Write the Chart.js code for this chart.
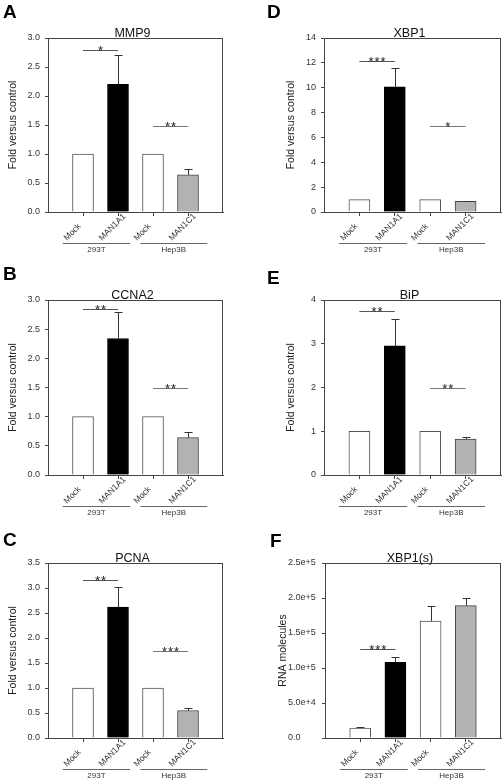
<!DOCTYPE html>
<html>
<head>
<meta charset="utf-8">
<script src="https://cdn.jsdelivr.net/npm/chart.js@4.4.0/dist/chart.umd.min.js"></script>
<style>
    body { margin: 0; background: #fff; width: 502px; height: 782px; position: relative; overflow: hidden; }
    canvas { position: absolute; }
</style>
</head>
<body>
<canvas id="chartA" width="251" height="260" style="left:0;top:0"></canvas>
<canvas id="chartD" width="251" height="260" style="left:251px;top:0"></canvas>
<canvas id="chartB" width="251" height="260" style="left:0;top:260px"></canvas>
<canvas id="chartE" width="251" height="260" style="left:251px;top:260px"></canvas>
<canvas id="chartC" width="251" height="262" style="left:0;top:520px"></canvas>
<canvas id="chartF" width="251" height="262" style="left:251px;top:520px"></canvas>
<script>
// shared categories
var barLabels = ['Mock', 'MAN1A1', 'Mock', 'MAN1C1'];
var groupLabels = ['293T', 'Hep3B'];

// A - MMP9
var mmp9Values = [1, 2.2, 1, 0.64];
var mmp9ErrTop = [null, 2.7, null, 0.75];
var mmp9Stars = ['*', '**'];
var mmp9StarY = [2.79, 1.48];
var mmp9Ticks = [0, 0.5, 1.0, 1.5, 2.0, 2.5, 3.0];

// B - CCNA2
var ccna2Values = [1, 2.34, 1, 0.64];
var ccna2ErrTop = [null, 2.8, null, 0.74];
var ccna2Stars = ['**', '**'];
var ccna2StarY = [2.85, 1.49];
var ccna2Ticks = [0, 0.5, 1.0, 1.5, 2.0, 2.5, 3.0];

// C - PCNA
var pcnaValues = [1, 2.62, 1, 0.55];
var pcnaErrTop = [null, 3.03, null, 0.6];
var pcnaStars = ['**', '***'];
var pcnaStarY = [3.16, 1.75];
var pcnaTicks = [0, 0.5, 1.0, 1.5, 2.0, 2.5, 3.0, 3.5];

// D - XBP1
var xbp1Values = [1, 10.08, 1, 0.86];
var xbp1ErrTop = [null, 11.6, null, 0.9];
var xbp1Stars = ['***', '*'];
var xbp1StarY = [12.13, 6.9];
var xbp1Ticks = [0, 2, 4, 6, 8, 10, 12, 14];

// E - BiP
var bipValues = [1, 2.95, 1, 0.82];
var bipErrTop = [null, 3.56, null, 0.87];
var bipStars = ['**', '**'];
var bipStarY = [3.75, 1.98];
var bipTicks = [0, 1, 2, 3, 4];

// F - XBP1(s)
var xbp1sValues = [14300, 108100, 167100, 189000];
var xbp1sErrTop = [15700, 116200, 188600, 200500];
var xbp1sStars = ['***', null];
var xbp1sStarY = [126700, null];
var xbp1sTicks = [0, 50000, 100000, 150000, 200000, 250000];

var FONT = "'Liberation Sans', Arial, sans-serif";
var barFill = ['#ffffff', '#000000', '#ffffff', '#b3b3b3'];
var barEdge = ['#555555', '#000000', '#555555', '#444444'];

var fmtOne = function(v) { return v.toFixed(1); };
var fmtInt = function(v) { return String(v); };
var fmtExp = function(v) { return v === 0 ? '0.0' : v.toExponential(1); };

var extrasPlugin = {
    id: 'extras',
    afterDraw: function(chart) {
        var o = chart.options.plugins.extras;
        var ctx = chart.ctx;
        var a = chart.chartArea;
        var x = chart.scales.x;
        var y = chart.scales.y;
        ctx.save();

        // frame
        ctx.strokeStyle = '#444';
        ctx.lineWidth = 1;
        ctx.strokeRect(Math.round(a.left) + 0.5, Math.round(a.top) + 0.5,
            Math.round(a.right - a.left) - 1, Math.round(a.bottom - a.top));

        // error bars
        ctx.strokeStyle = '#333';
        o.errTop.forEach(function(e, i) {
            if (e === null) return;
            var px = Math.round(x.getPixelForValue(i + 1)) + 0.5;
            var y0 = y.getPixelForValue(o.values[i]);
            var y1 = Math.round(y.getPixelForValue(e)) + 0.5;
            ctx.beginPath();
            ctx.moveTo(px, y0);
            ctx.lineTo(px, y1);
            ctx.moveTo(px - 4, y1);
            ctx.lineTo(px + 4, y1);
            ctx.stroke();
        });

        // significance marks
        ctx.fillStyle = '#222';
        ctx.font = '13px ' + FONT;
        ctx.textAlign = 'center';
        ctx.textBaseline = 'alphabetic';
        o.stars.forEach(function(s, k) {
            if (s === null) return;
            var x0 = x.getPixelForValue(1 + k * 2);
            var x1 = x.getPixelForValue(2 + k * 2);
            var py = Math.round(y.getPixelForValue(o.starY[k])) + 0.5;
            ctx.strokeStyle = k === 1 ? '#777' : '#555';
            ctx.beginPath();
            ctx.moveTo(x0, py);
            ctx.lineTo(x1, py);
            ctx.stroke();
            var mid = (x0 + x1) / 2;
            for (var j = 0; j < s.length; j++) {
                ctx.fillText('*', mid + (j - (s.length - 1) / 2) * 6, py + 4);
            }
        });

        // rotated bar labels, anchored at their start
        ctx.fillStyle = '#333';
        ctx.font = '8.5px ' + FONT;
        ctx.textAlign = 'left';
        barLabels.forEach(function(lbl, i) {
            ctx.save();
            ctx.translate(x.getPixelForValue(i + 1) - 16, a.bottom + 29);
            ctx.rotate(-Math.PI / 4);
            ctx.fillText(lbl, 0, 0);
            ctx.restore();
        });

        // cell line groups
        var spans = [[0.42, 2.35], [2.64, 4.55]];
        ctx.strokeStyle = '#666';
        ctx.font = '8px ' + FONT;
        ctx.textAlign = 'center';
        ctx.textBaseline = 'middle';
        groupLabels.forEach(function(g, k) {
            var x0 = x.getPixelForValue(spans[k][0]);
            var x1 = x.getPixelForValue(spans[k][1]);
            var gy = Math.round(a.bottom + 31) + 0.5;
            ctx.beginPath();
            ctx.moveTo(x0, gy);
            ctx.lineTo(x1, gy);
            ctx.stroke();
            ctx.fillText(g, (x0 + x1) / 2, gy + 6);
        });

        // title and panel letter
        ctx.fillStyle = '#111';
        ctx.font = '12.5px ' + FONT;
        ctx.textBaseline = 'alphabetic';
        ctx.fillText(o.title, (a.left + a.right) / 2 - 3, a.top - 1);
        ctx.textAlign = 'left';
        ctx.font = 'bold 19px ' + FONT;
        ctx.fillStyle = '#000';
        ctx.fillText(o.letter, o.letterPos[0], o.letterPos[1]);
        ctx.restore();
    }
};

var makePanel = function(id, p) {
    var canvas = document.getElementById(id);
    var W = canvas.width;
    var H = canvas.height;
    var labels = [''].concat(barLabels, ['']);
    var data = [null].concat(p.values, [null]);
    var ticks = p.ticks;
    var padL = p.labelLeft || 0;

    return new Chart(canvas, {
        type: 'bar',
        data: {
            labels: labels,
            datasets: [
                {
                    data: data,
                    backgroundColor: [null].concat(barFill, [null]),
                    borderColor: [null].concat(barEdge, [null]),
                    borderWidth: 1,
                    barThickness: 21,
                },
            ],
        },
        options: {
            responsive: false,
            animation: false,
            events: [],
            layout: {
                padding: { left: padL, top: p.area[1], right: W - p.area[2], bottom: 0 },
            },
            plugins: {
                legend: { display: false },
                tooltip: { enabled: false },
                extras: {
                    values: p.values,
                    errTop: p.errTop,
                    stars: p.stars,
                    starY: p.starY,
                    title: p.title,
                    letter: p.letter,
                    letterPos: p.letterPos,
                },
            },
            scales: {
                x: {
                    offset: false,
                    grid: {
                        offset: false,
                        drawOnChartArea: false,
                        tickLength: 4,
                        color: function(c) {
                            return c.index === 0 || c.index === 5 ? 'rgba(0,0,0,0)' : '#444';
                        },
                    },
                    border: { color: '#444' },
                    ticks: { display: false, autoSkip: false },
                    afterFit: function(scale) {
                        scale.height = H - p.area[3];
                        scale.paddingLeft = 0;
                        scale.paddingRight = 0;
                    },
                },
                y: {
                    min: ticks[0],
                    max: ticks[ticks.length - 1],
                    grid: { drawOnChartArea: false, tickLength: 3, color: '#444' },
                    border: { color: '#444' },
                    ticks: {
                        stepSize: ticks[1] - ticks[0],
                        padding: 5,
                        crossAlign: padL ? 'far' : 'near',
                        color: '#333',
                        font: { family: FONT, size: 9 },
                        callback: function(v) {
                            return p.fmt(v);
                        },
                    },
                    title: {
                        display: true,
                        text: p.yTitle,
                        color: '#222',
                        font: { family: FONT, size: 10.5 },
                        padding: { top: p.yTitleX - padL - 6, bottom: 0 },
                    },
                    afterFit: function(scale) {
                        scale.width = p.area[0] - padL;
                    },
                },
            },
        },
        plugins: [extrasPlugin],
    });
};

var fold = 'Fold versus control';

makePanel('chartA', {
    values: mmp9Values, errTop: mmp9ErrTop, stars: mmp9Stars, starY: mmp9StarY, ticks: mmp9Ticks,
    fmt: fmtOne, title: 'MMP9', yTitle: fold, letter: 'A', letterPos: [3, 18],
    area: [48, 38, 223, 212], yTitleX: 12.5,
});
makePanel('chartD', {
    values: xbp1Values, errTop: xbp1ErrTop, stars: xbp1Stars, starY: xbp1StarY, ticks: xbp1Ticks,
    fmt: fmtInt, title: 'XBP1', yTitle: fold, letter: 'D', letterPos: [16, 18],
    area: [73, 38, 250, 212], yTitleX: 40,
});
makePanel('chartB', {
    values: ccna2Values, errTop: ccna2ErrTop, stars: ccna2Stars, starY: ccna2StarY, ticks: ccna2Ticks,
    fmt: fmtOne, title: 'CCNA2', yTitle: fold, letter: 'B', letterPos: [3, 20],
    area: [48, 40, 223, 215], yTitleX: 12.5,
});
makePanel('chartE', {
    values: bipValues, errTop: bipErrTop, stars: bipStars, starY: bipStarY, ticks: bipTicks,
    fmt: fmtInt, title: 'BiP', yTitle: fold, letter: 'E', letterPos: [16, 24],
    area: [73, 40, 250, 215], yTitleX: 40,
});
makePanel('chartC', {
    values: pcnaValues, errTop: pcnaErrTop, stars: pcnaStars, starY: pcnaStarY, ticks: pcnaTicks,
    fmt: fmtOne, title: 'PCNA', yTitle: fold, letter: 'C', letterPos: [3, 26],
    area: [48, 43, 223, 218], yTitleX: 12.5,
});
makePanel('chartF', {
    values: xbp1sValues, errTop: xbp1sErrTop, stars: xbp1sStars, starY: xbp1sStarY, ticks: xbp1sTicks,
    fmt: fmtExp, title: 'XBP1(s)', yTitle: 'RNA molecules', letter: 'F', letterPos: [19, 27],
    area: [74, 43, 250, 218], yTitleX: 32, labelLeft: 37,
});
</script>
</body>
</html>
